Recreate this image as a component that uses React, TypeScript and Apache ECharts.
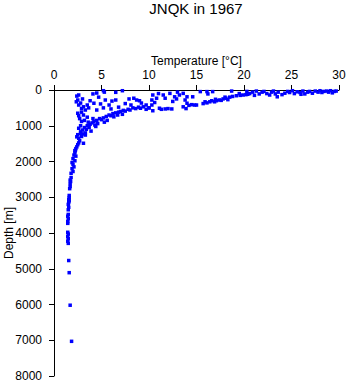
import React, { useEffect, useRef } from "react";
import * as echarts from "echarts";

const title = "JNQK in 1967";
const xName = "Temperature [°C]";
const yName = "Depth [m]";

// [temperature °C, depth m]
const deepPoints: number[][] = [
  [1.9, 2030], [2.0, 2080], [2.1, 2150], [1.9, 2200], [2.0, 2280], [1.8, 2330], [1.8, 2450],
  [1.7, 2520], [1.75, 2560], [1.7, 2620], [1.7, 2700], [1.65, 2760], [1.6, 2950], [1.6, 3010],
  [1.55, 3060], [1.6, 3100], [1.55, 3150], [1.5, 3200], [1.55, 3280], [1.5, 3350], [1.5, 3480],
  [1.45, 3530], [1.5, 3600], [1.45, 3680], [1.45, 3730], [1.45, 3980], [1.5, 4030], [1.45, 4100],
  [1.5, 4160], [1.45, 4230], [1.5, 4290], [1.55, 4770], [1.6, 5110], [1.7, 6020], [1.85, 7030],
];

const intermediatePoints: number[][] = [
  [2.8, 1210], [2.5, 1250], [2.4, 1310], [2.6, 1350], [3.1, 1490], [2.7, 1420], [2.5, 1530],
  [2.4, 1590], [2.3, 1640], [2.25, 1690], [2.2, 1760], [2.1, 1820], [2.3, 1850], [2.0, 1920],
  [2.2, 1980], [2.6, 1480], [2.9, 1300], [3.3, 1260], [3.0, 1230], [2.2, 1700],
];

const thermoclinePoints: number[][] = [
  [2.6, 1070], [2.8, 1170], [3.0, 1120], [3.2, 1050], [3.5, 1000], [3.4, 1100], [3.8, 960],
  [4.0, 920], [3.7, 1050], [4.2, 880], [4.5, 850], [4.3, 980], [4.8, 800], [5.0, 830],
  [5.2, 780], [5.5, 740], [5.3, 900], [5.8, 700], [6.0, 720], [6.2, 660], [6.5, 640],
  [6.3, 750], [6.8, 620], [7.0, 600], [7.3, 570], [7.5, 590], [7.8, 540], [8.0, 560],
  [8.3, 500], [8.6, 520], [8.9, 480], [9.1, 510], [9.4, 470], [9.7, 540], [10.0, 500],
  [4.6, 940], [3.9, 1150], [3.3, 1200], [4.4, 1020], [5.6, 850], [6.7, 700], [7.2, 680],
  [2.8, 1000], [2.9, 880], [3.2, 850], [2.7, 800], [2.5, 650], [2.6, 720], [3.1, 700],
  [2.9, 620], [3.6, 900], [4.1, 800], [3.5, 760],
];

const upperColdPoints: number[][] = [
  [2.4, 170], [2.6, 140], [2.5, 280], [2.35, 330], [2.8, 365], [3.1, 470], [3.5, 420],
  [3.65, 500], [2.6, 420], [2.9, 520], [3.3, 560], [4.1, 110], [4.5, 85], [5.2, 20],
  [5.3, 60], [5.4, 280], [6.5, 65], [7.2, 20], [4.9, 390], [4.5, 560], [5.2, 500],
  [6.1, 310], [6.5, 280], [8.4, 230], [8.7, 280], [9.2, 365], [9.7, 420], [10.3, 280],
  [10.0, 500], [3.8, 300], [4.2, 370], [5.8, 420], [6.8, 480], [7.5, 380], [8.1, 420],
  [9.0, 300], [7.9, 250], [6.0, 530], [3.0, 250], [4.7, 200],
];

const midPoints: number[][] = [
  [10.4, 140], [10.8, 230], [11.5, 140], [11.7, 230], [12.2, 95], [12.7, 190], [12.9, 250],
  [13.2, 140], [13.6, 95], [13.8, 280], [14.0, 190], [14.6, 190], [11.1, 510], [11.3, 540],
  [11.7, 530], [12.0, 520], [12.4, 530], [10.4, 580], [10.3, 420], [13.6, 470], [14.0, 370],
  [14.8, 420], [14.2, 430], [13.9, 520], [14.5, 410], [15.0, 420], [10.6, 350], [12.5, 320],
  [11.0, 100], [13.0, 60],
];

const warmBandPoints: number[][] = [
  [15.4, 45], [16.1, 45], [16.7, 45], [16.2, 110], [15.9, 330], [16.1, 360], [16.4, 330],
  [16.6, 300], [17.1, 300], [17.4, 280], [17.8, 250], [18.1, 230], [18.5, 200], [18.8, 180],
  [19.2, 160], [19.6, 150], [19.9, 140], [20.2, 130], [20.4, 120], [15.7, 380], [17.0, 260],
  [18.3, 270], [18.7, 30], [19.5, 100], [16.9, 330], [17.6, 290], [18.0, 200],
];

const surfacePoints: number[][] = [
  [20.3, 40], [20.6, 100], [20.9, 60], [21.1, 150], [21.3, 30], [21.9, 60], [22.1, 40],
  [22.4, 100], [22.9, 60], [23.1, 30], [23.3, 110], [23.5, 190], [23.6, 60], [24.3, 90],
  [24.6, 40], [24.8, 70], [25.1, 20], [25.3, 100], [25.6, 50], [25.9, 70], [26.2, 30],
  [26.4, 110], [26.7, 60], [26.9, 40], [27.5, 30], [27.8, 60], [28.0, 20], [28.2, 70],
  [28.4, 40], [28.7, 30], [28.9, 60], [29.1, 20], [29.3, 80], [29.5, 40], [29.7, 30],
  [27.2, 90], [26.0, 120], [24.0, 130], [22.7, 140], [21.6, 110],
];

const allPoints = [
  ...deepPoints,
  ...intermediatePoints,
  ...thermoclinePoints,
  ...upperColdPoints,
  ...midPoints,
  ...warmBandPoints,
  ...surfacePoints,
];

const FONT = "Liberation Sans, Arial, Helvetica, sans-serif";

export default function App() {
  const ref = useRef<HTMLDivElement>(null);
  useEffect(() => {
    if (!ref.current) return;
    const chart = echarts.init(ref.current, null, { renderer: "svg" });
    chart.setOption({
      animation: false,
      backgroundColor: "#ffffff",
      title: {
        text: title,
        left: 196,
        textAlign: "center",
        top: 1,
        padding: 0,
        textStyle: { fontFamily: FONT, fontSize: 15, fontWeight: "normal", color: "#000" },
      },
      graphic: [
        {
          type: "text",
          x: 196.5,
          y: 61,
          style: {
            text: xName,
            fontFamily: FONT,
            fontSize: 12,
            fill: "#000",
            align: "center",
            verticalAlign: "middle",
          },
        },
        {
          type: "text",
          x: 9,
          y: 233,
          rotation: Math.PI / 2,
          style: {
            text: yName,
            fontFamily: FONT,
            fontSize: 12,
            fill: "#000",
            align: "center",
            verticalAlign: "middle",
          },
        },
      ],
      grid: { left: 54, right: 9, top: 90, bottom: 8, containLabel: false, outerBoundsMode: "none" },
      xAxis: {
        type: "value",
        position: "top",
        min: 0,
        max: 30,
        interval: 5,
        axisLine: { onZero: false, lineStyle: { color: "#000", width: 1 } },
        axisTick: { show: true, length: 5, lineStyle: { color: "#000" } },
        axisLabel: { fontFamily: FONT, fontSize: 12, color: "#000", margin: 9, formatter: (v: number) => String(v) },
        splitLine: { show: false },
      },
      yAxis: {
        type: "value",
        inverse: true,
        min: 0,
        max: 8000,
        interval: 1000,
        axisLine: { show: true, onZero: false, lineStyle: { color: "#000", width: 1 } },
        axisTick: { show: true, length: 5, lineStyle: { color: "#000" } },
        axisLabel: { fontFamily: FONT, fontSize: 12, color: "#000", margin: 12, formatter: (v: number) => String(v) },
        splitLine: { show: false },
      },
      series: [
        {
          type: "scatter",
          data: allPoints,
          symbol: "rect",
          symbolSize: 3.5,
          itemStyle: { color: "#0000ff", opacity: 1 },
        },
      ],
    });
    return () => chart.dispose();
  }, []);
  return <div ref={ref} style={{ width: 348, height: 384, position: "absolute", left: 0, top: 0 }} />;
}
